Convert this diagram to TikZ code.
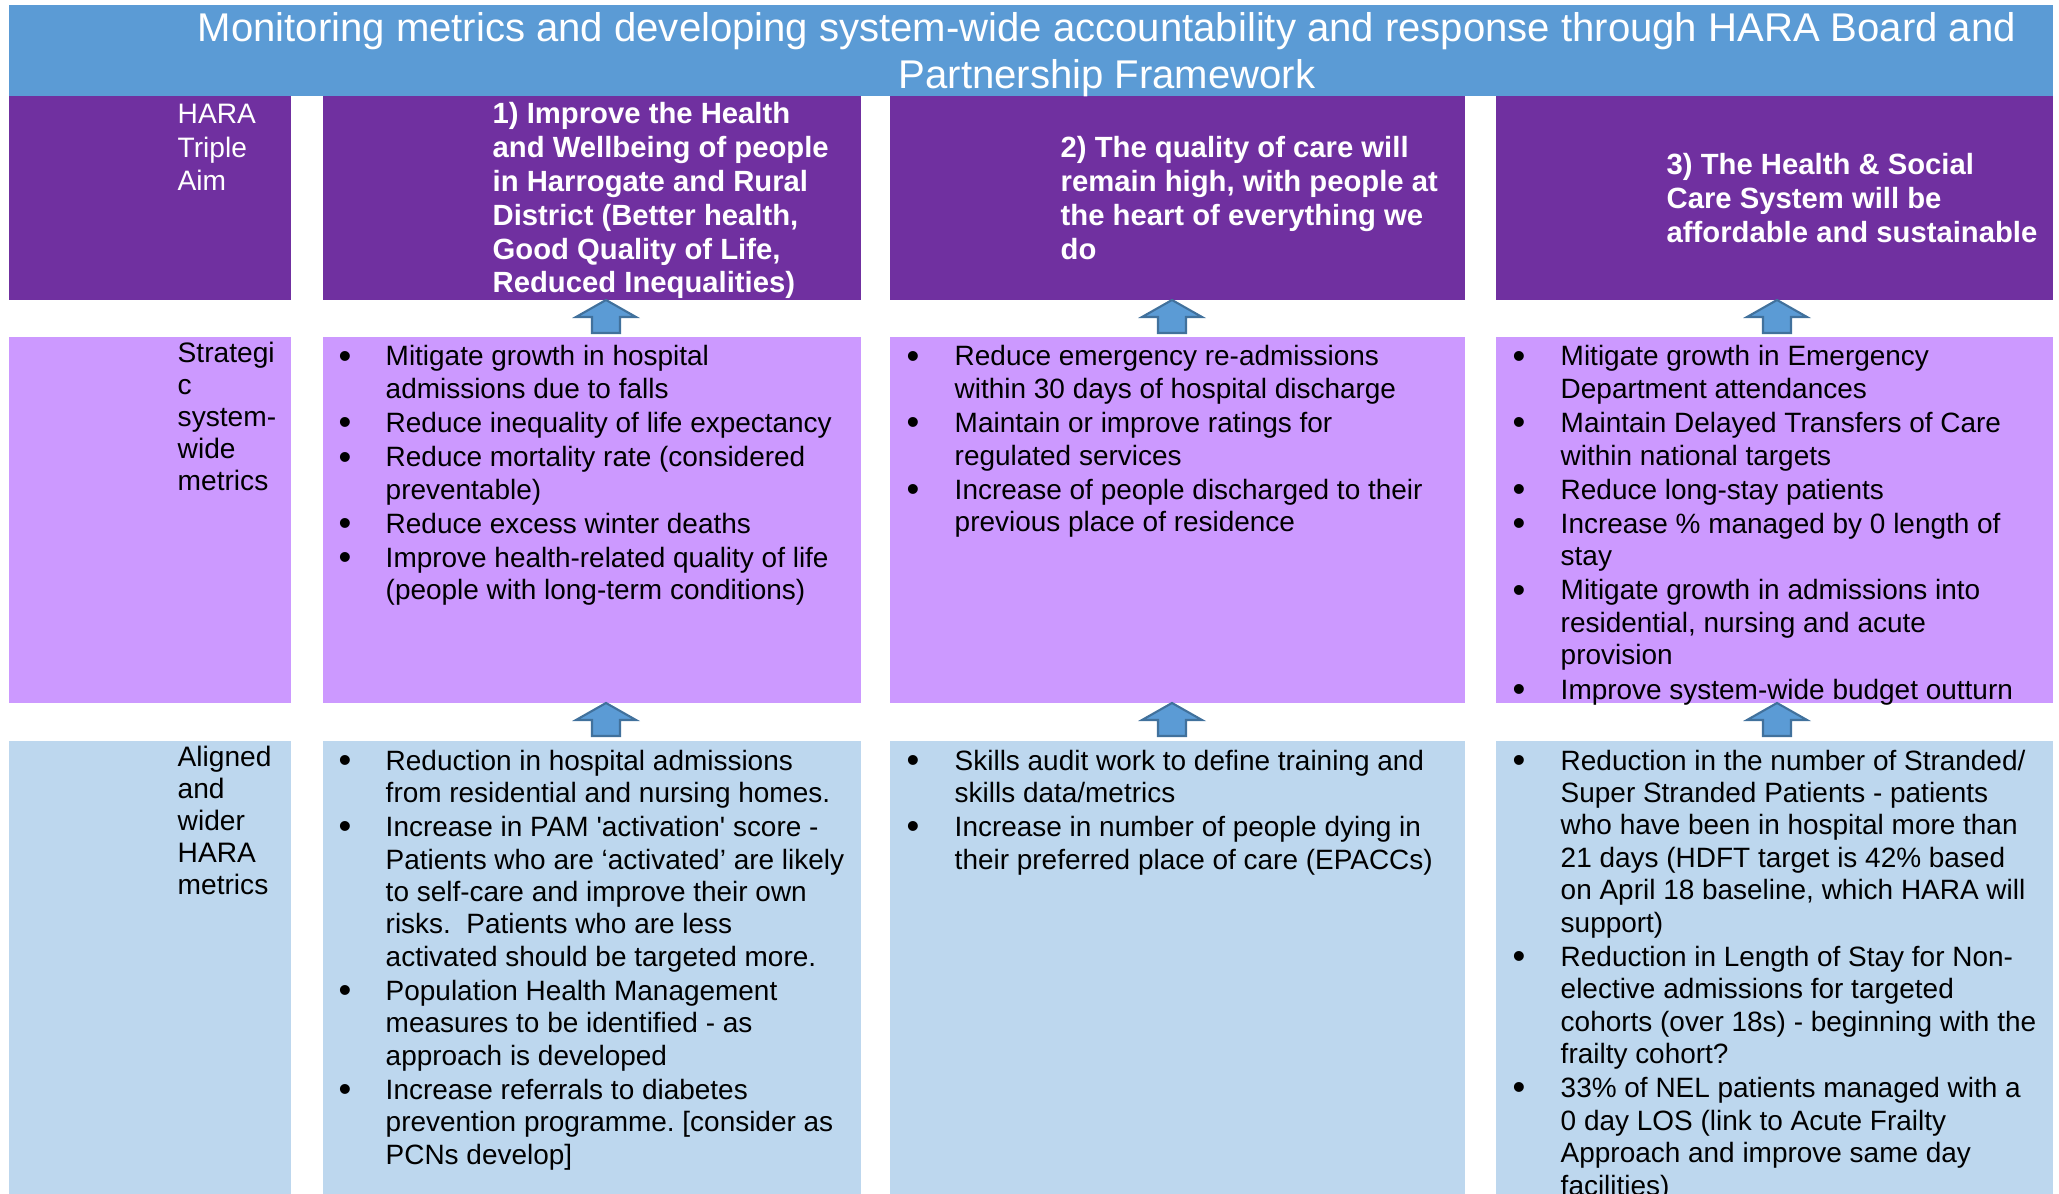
\documentclass[tikz,border=0pt]{standalone}
\usepackage{fontspec}
\setmainfont{Liberation Sans}
\usepackage{array}
\usepackage{graphicx}
\usetikzlibrary{positioning}

\definecolor{hdrblue}{HTML}{5B9BD5}
\definecolor{aimpurple}{HTML}{7030A0}
\definecolor{metriclilac}{HTML}{CC99FF}
\definecolor{alignblue}{HTML}{BDD7EE}
\definecolor{arrowedge}{HTML}{41719C}

\frenchspacing
\newcommand{\bul}{\raisebox{-0.15ex}{\scalebox{1.3}{\textbullet}}}
% block arrow pointing up, tip at (#1,#2)
\newcommand{\uparr}[2]{%
  \filldraw[arrowsty] (#1,#2) -- ++(30,17) -- ++(-16,0) -- ++(0,16)
    -- ++(-28,0) -- ++(0,-16) -- ++(-16,0) -- cycle;}

\begin{document}
\begin{tikzpicture}[x=0.01cm,y=-0.01cm]
\tikzset{
  arrowsty/.style={fill=hdrblue, draw=arrowedge, line width=0.6pt},
  hdrtext/.style={anchor=base, inner sep=0pt, text=white, font=\fontsize{11.4}{13.1}\selectfont},
  aimtext/.style={anchor=base west, inner sep=0pt, text=white, font=\bfseries\fontsize{8.32}{9.6}\selectfont},
  rowname/.style={anchor=base west, inner sep=0pt, font=\fontsize{8}{9.05}\selectfont},
  bullets/.style={anchor=base west, inner sep=0pt, font=\fontsize{7.95}{9.22}\selectfont},
}
\useasboundingbox (0,0) rectangle (2059,1194);

% header band
\fill[hdrblue] (9,5) rectangle (2053,96);
% triple aim row
\fill[aimpurple] (9,96) rectangle (291,300);
\fill[aimpurple] (323,96) rectangle (861,300);
\fill[aimpurple] (890,96) rectangle (1465,300);
\fill[aimpurple] (1496,96) rectangle (2053,300);
% strategic metrics row
\fill[metriclilac] (9,337) rectangle (291,703);
\fill[metriclilac] (323,337) rectangle (861,703);
\fill[metriclilac] (890,337) rectangle (1465,703);
\fill[metriclilac] (1496,337) rectangle (2053,703);
% aligned metrics row
\fill[alignblue] (9,741) rectangle (291,1194);
\fill[alignblue] (323,741) rectangle (861,1194);
\fill[alignblue] (890,741) rectangle (1465,1194);
\fill[alignblue] (1496,741) rectangle (2053,1194);

\node[hdrtext] (hdr) at (1107,42) {\begin{tabular}[t]{@{}c@{}}
Monitoring metrics and developing system-wide accountability and response through HARA Board and\\
Partnership Framework\end{tabular}};

% row names
\node[rowname, font=\fontsize{8}{9.5}\selectfont, text=white] (aimname) at (177,124)
  {\begin{tabular}[t]{@{}l@{}}HARA\\Triple\\Aim\end{tabular}};
\node[rowname] (stratname) at (177,363)
  {\begin{tabular}[t]{@{}l@{}}Strategi\\c\\system-\\wide\\metrics\end{tabular}};
\node[rowname] (alignname) at (177,767)
  {\begin{tabular}[t]{@{}l@{}}Aligned\\and\\wider\\HARA\\metrics\end{tabular}};

% triple aims
\node[aimtext] (aim1) at (492,124) {\begin{tabular}[t]{@{}l@{}}
1) Improve the Health\\and Wellbeing of people\\in Harrogate and Rural\\
District (Better health,\\Good Quality of Life,\\Reduced Inequalities)\end{tabular}};
\node[aimtext] (aim2) at (1060,158) {\begin{tabular}[t]{@{}l@{}}
2) The quality of care will\\remain high, with people at\\the heart of everything we\\do\end{tabular}};
\node[aimtext] (aim3) at (1666,175) {\begin{tabular}[t]{@{}l@{}}
3) The Health \& Social\\Care System will be\\affordable and sustainable\end{tabular}};

% strategic system-wide metrics
\node[bullets] (strat1) at (338,366) {\begin{tabular}[t]{@{}p{0.47cm}@{}l@{}}
\bul & Mitigate growth in hospital\\ & admissions due to falls\\[0.5pt]
\bul & Reduce inequality of life expectancy\\[0.5pt]
\bul & Reduce mortality rate (considered\\ & preventable)\\[0.5pt]
\bul & Reduce excess winter deaths\\[0.5pt]
\bul & Improve health-related quality of life\\ & (people with long-term conditions)
\end{tabular}};
\node[bullets] (strat2) at (906,366) {\begin{tabular}[t]{@{}p{0.48cm}@{}l@{}}
\bul & Reduce emergency re-admissions\\ & within 30 days of hospital discharge\\[0.5pt]
\bul & Maintain or improve ratings for\\ & regulated services\\[0.5pt]
\bul & Increase of people discharged to their\\ & previous place of residence
\end{tabular}};
\node[bullets] (strat3) at (1512,366) {\begin{tabular}[t]{@{}p{0.48cm}@{}l@{}}
\bul & Mitigate growth in Emergency\\ & Department attendances\\[0.5pt]
\bul & Maintain Delayed Transfers of Care\\ & within national targets\\[0.5pt]
\bul & Reduce long-stay patients\\[0.5pt]
\bul & Increase \% managed by 0 length of\\ & stay\\[0.5pt]
\bul & Mitigate growth in admissions into\\ & residential, nursing and acute\\ & provision\\[0.5pt]
\bul & Improve system-wide budget outturn
\end{tabular}};

% aligned and wider HARA metrics
\node[bullets] (align1) at (338,770) {\begin{tabular}[t]{@{}p{0.47cm}@{}l@{}}
\bul & Reduction in hospital admissions\\ & from residential and nursing homes.\\[0.5pt]
\bul & Increase in PAM \textquotesingle activation\textquotesingle\ score -\\
 & Patients who are ‘activated’ are likely\\ & to self-care and improve their own\\
 & risks.\ \ Patients who are less\\ & activated should be targeted more.\\[0.5pt]
\bul & Population Health Management\\ & measures to be identified - as\\ & approach is developed\\[0.5pt]
\bul & Increase referrals to diabetes\\ & prevention programme. [consider as\\ & PCNs develop]
\end{tabular}};
\node[bullets] (align2) at (906,770) {\begin{tabular}[t]{@{}p{0.48cm}@{}l@{}}
\bul & Skills audit work to define training and\\ & skills data/metrics\\[0.5pt]
\bul & Increase in number of people dying in\\ & their preferred place of care (EPACCs)
\end{tabular}};
\node[bullets] (align3) at (1512,770) {\begin{tabular}[t]{@{}p{0.48cm}@{}l@{}}
\bul & Reduction in the number of Stranded/\\ & Super Stranded Patients - patients\\
 & who have been in hospital more than\\ & 21 days (HDFT target is 42\% based\\
 & on April 18 baseline, which HARA will\\ & support)\\[0.5pt]
\bul & Reduction in Length of Stay for Non-\\ & elective admissions for targeted\\
 & cohorts (over 18s) - beginning with the\\ & frailty cohort?\\[0.5pt]
\bul & 33\% of NEL patients managed with a\\ & 0 day LOS (link to Acute Frailty\\
 & Approach and improve same day\\ & facilities)
\end{tabular}};

% arrows between rows
\uparr{606}{300}
\uparr{1172}{300}
\uparr{1777}{300}
\uparr{606}{703}
\uparr{1172}{703}
\uparr{1777}{703}
\end{tikzpicture}
\end{document}
